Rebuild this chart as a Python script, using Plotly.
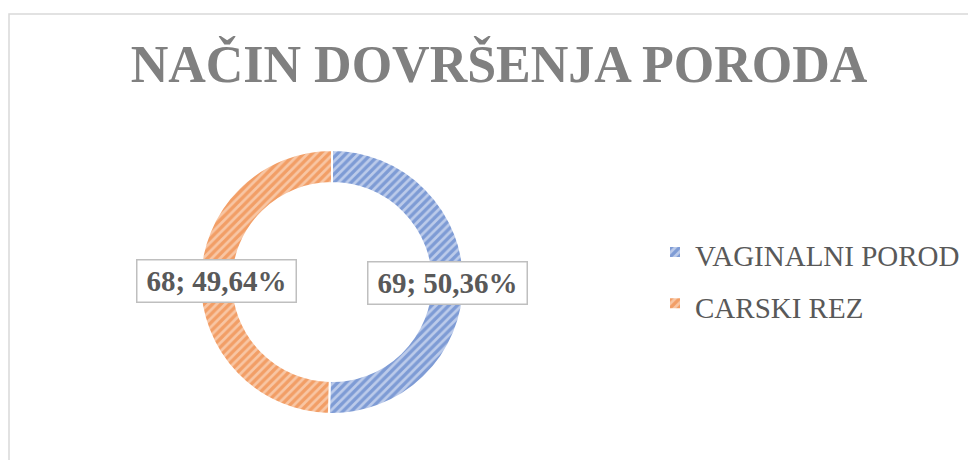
import math
import plotly.graph_objects as go

labels = ["VAGINALNI POROD", "CARSKI REZ"]
values = [69, 68]
percent_labels = ["50,36%", "49,64%"]
fg_colors = ["#3F6CC0", "#EC7628"]
bg_colors = ["#BCCBEA", "#F8C6A4"]
title_text = "NAČIN DOVRŠENJA PORODA"

W, H = 976, 460
OFF = 8  # page body margin
cx, cy, R = 332 - OFF, 282 - OFF, 132
hole = 0.75

dom_x = [(cx - R) / W, (cx + R) / W]
dom_y = [1 - (cy + R) / H, 1 - (cy - R) / H]

fig = go.Figure()
fig.add_trace(go.Pie(
    labels=[f'<span style="font-size:29px">{l}</span>' for l in labels],
    values=values,
    hole=hole,
    sort=False,
    direction="clockwise",
    rotation=0,
    textinfo="none",
    hoverinfo="label+value+percent",
    domain=dict(x=dom_x, y=dom_y),
    marker=dict(
        colors=bg_colors,
        line=dict(color="white", width=2),
        pattern=dict(shape="/", fgcolor=fg_colors, bgcolor=bg_colors,
                     size=6, solidity=0.55, fillmode="overlay"),
    ),
))

# label boxes at mid-angle of each slice, on the ring's middle radius
total = sum(values)
start = 0.0
mid_r = R * (1 + hole) / 2
for v, p in zip(values, percent_labels):
    frac = v / total
    mid = (start + frac / 2) * 2 * math.pi
    start += frac
    px = cx + mid_r * math.sin(mid)
    py = cy - mid_r * math.cos(mid)
    fig.add_annotation(
        x=px / W, y=1 - py / H, xref="paper", yref="paper",
        xanchor="center", yanchor="middle",
        text=f"<b>{v}; {p}</b>", showarrow=False,
        font=dict(family="Liberation Serif", size=29, color="#595959"),
        width=150, height=33, align="center", valign="middle",
        bgcolor="white", bordercolor="#BFBFBF", borderwidth=1.5, borderpad=4,
    )

fig.add_shape(type="rect", xref="paper", yref="paper",
              x0=1 / W, x1=1.02, y0=-0.02, y1=1 - (14 - OFF) / H,
              line=dict(color="#D9D9D9", width=1.5), layer="below")

fig.update_layout(
    width=W, height=H,
    margin=dict(l=0, r=0, t=0, b=0),
    paper_bgcolor="white", plot_bgcolor="white",
    title=dict(text=f"<b>{title_text}</b>", x=(499 - OFF) / W, xanchor="center",
               y=1 - (64 - OFF) / H, yanchor="middle", yref="container",
               font=dict(family="Liberation Serif", size=52, color="#808080")),
    legend=dict(x=(696 - OFF - 41) / W, y=1 - (278 - OFF) / H,
                xanchor="left", yanchor="middle",
                font=dict(family="Liberation Serif", size=37, color="#595959"),
                itemwidth=30, tracegroupgap=0),
    showlegend=True,
)

fig.write_html("out.html")
